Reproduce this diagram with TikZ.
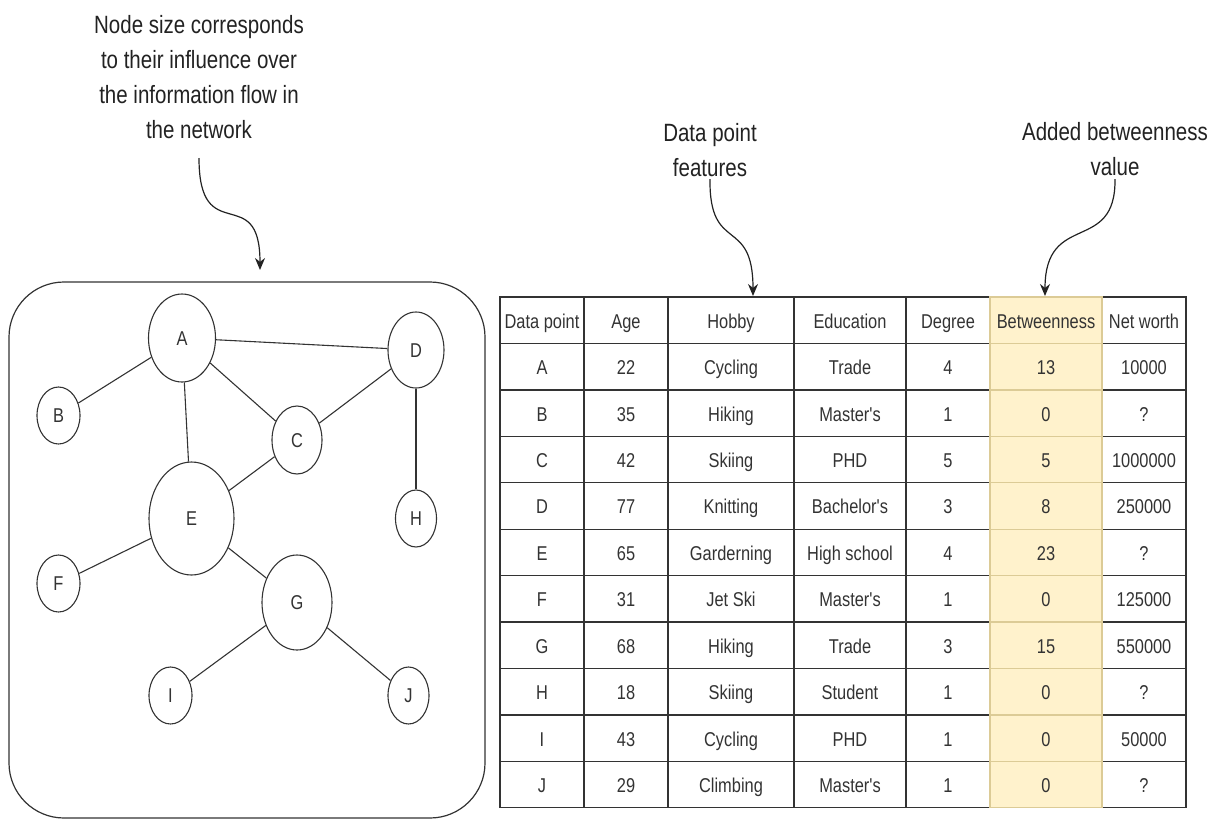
\documentclass[tikz,border=0pt]{standalone}
\usepackage{fontspec}
\setmainfont{Liberation Sans}[FakeStretch=0.82, Ligatures=TeXOff]
\usetikzlibrary{shapes.geometric,arrows.meta}
\definecolor{ink}{HTML}{333333}
\definecolor{noteink}{HTML}{222222}
\definecolor{betfill}{HTML}{FFF2CC}
\definecolor{betline}{HTML}{DCCB96}

\begin{document}
\begin{tikzpicture}[x=1pt,y=-1pt,
  vertex/.style={draw=ink, line width=1.1pt, ellipse, inner sep=0pt,
    text height=14.3pt, text depth=0pt,
    font=\fontsize{20}{24}\selectfont, text=ink},
  link/.style={draw=ink, line width=1.1pt},
  note/.style={align=center, inner sep=0pt, anchor=north,
    font=\fontsize{25}{35}\selectfont, text=noteink},
  pointer/.style={draw=noteink, line width=1.2pt, -{Stealth[length=12pt,width=10pt]}},
  cell/.style={draw=ink, line width=1.3pt, rectangle, minimum height=46.43pt,
    inner sep=0pt, text height=16pt, text depth=0pt,
    font=\fontsize{20}{24}\selectfont, text=ink},
  betcell/.style={cell, fill=betfill, draw=betline, minimum width=112pt}
]
\useasboundingbox (0,0) rectangle (1219,820);

% ---- annotations ----
\node[note] (sizenote) at (199,15) {Node size corresponds\\to their influence over\\the information flow in\\the network};
\node[note] (featnote) at (710,123) {Data point\\features};
\node[note] (betnote) at (1115,122) {Added betweenness\\value};

\coordinate (sizetip) at (260,270);
\coordinate (feattip) at (753,296);
\coordinate (bettip) at (1045,296);

\draw[pointer] (sizenote.south |- {(0,158)}) .. controls (199,250) and (260,180) .. (sizetip);
\draw[pointer] (featnote.south |- {(0,179)}) .. controls (709,255) and (753,215) .. (feattip);
\draw[pointer] (betnote.south |- {(0,179)}) .. controls (1116,255) and (1045,210) .. (bettip);

% ---- network ----
\node[draw=ink, line width=1.2pt, rounded corners=55pt, minimum width=476pt,
  minimum height=536pt, inner sep=0pt] (net) at (247,550) {};

\node[vertex, minimum width=67pt, minimum height=88pt] (A) at (182,338) {A};
\node[vertex, minimum width=43pt, minimum height=57pt] (B) at (58.5,415.5) {B};
\node[vertex, minimum width=50pt, minimum height=68pt] (C) at (297,440) {C};
\node[vertex, minimum width=56pt, minimum height=76pt] (D) at (416,350) {D};
\node[vertex, minimum width=85pt, minimum height=113pt] (E) at (191.5,518.5) {E};
\node[vertex, minimum width=43pt, minimum height=57pt] (F) at (58.5,583.5) {F};
\node[vertex, minimum width=70pt, minimum height=95pt] (G) at (297,602.5) {G};
\node[vertex, minimum width=41pt, minimum height=57pt] (H) at (416,518.5) {H};
\node[vertex, minimum width=43pt, minimum height=57pt] (I) at (170.5,695.5) {I};
\node[vertex, minimum width=41pt, minimum height=57pt] (J) at (408.5,695.5) {J};

\draw[link] (A) -- (B);
\draw[link] (A) -- (D);
\draw[link] (A) -- (C);
\draw[link] (A) -- (E);
\draw[link] (D) -- (C);
\draw[link] (D) -- (H);
\draw[link] (C) -- (E);
\draw[link] (E) -- (F);
\draw[link] (E) -- (G);
\draw[link] (G) -- (I);
\draw[link] (G) -- (J);

% ---- data table ----
\foreach \k/\a/\b/\c/\d/\e/\g in {
  0/Data point/Age/Hobby/Education/Degree/Net worth,
  1/A/22/Cycling/Trade/4/10000,
  2/B/35/Hiking/Master's/1/?,
  3/C/42/Skiing/PHD/5/1000000,
  4/D/77/Knitting/Bachelor's/3/250000,
  5/E/65/Garderning/High school/4/?,
  6/F/31/Jet Ski/Master's/1/125000,
  7/G/68/Hiking/Trade/3/550000,
  8/H/18/Skiing/Student/1/?,
  9/I/43/Cycling/PHD/1/50000,
  10/J/29/Climbing/Master's/1/?}{
  \pgfmathsetmacro\yc{297+46.43*(\k+0.5)}
  \node[cell, minimum width=84pt]  (t\k-1) at (542,\yc) {\a};
  \node[cell, minimum width=84pt]  (t\k-2) at (626,\yc) {\b};
  \node[cell, minimum width=126pt] (t\k-3) at (731,\yc) {\c};
  \node[cell, minimum width=112pt] (t\k-4) at (850,\yc) {\d};
  \node[cell, minimum width=84pt]  (t\k-5) at (948,\yc) {\e};
  \node[cell, minimum width=84pt]  (t\k-7) at (1144,\yc) {\g};
}
\foreach \k/\v in {0/Betweenness,1/13,2/0,3/5,4/8,5/23,6/0,7/15,8/0,9/0,10/0}{
  \pgfmathsetmacro\yc{297+46.43*(\k+0.5)}
  \node[betcell] (t\k-6) at (1046,\yc) {\v};
}
\end{tikzpicture}
\end{document}
